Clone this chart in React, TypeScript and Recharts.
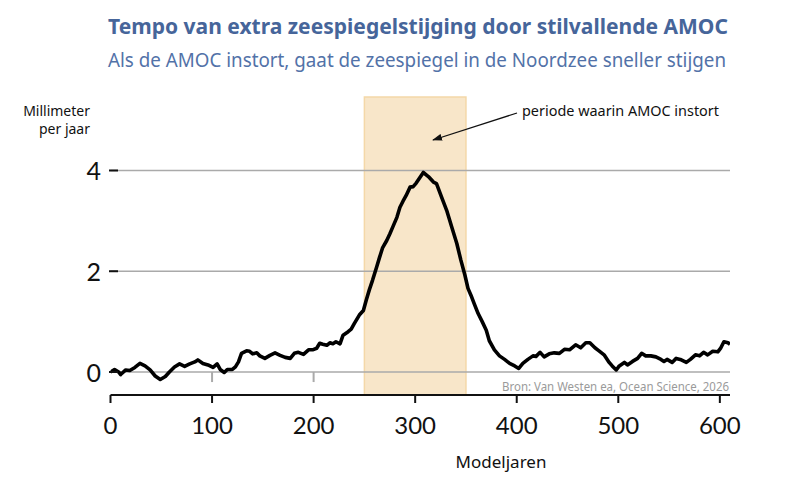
import React from "react";
import {
  LineChart,
  Line,
  XAxis,
  YAxis,
  ReferenceArea,
  ReferenceLine,
} from "recharts";

// Model years (x) and extra sea-level-rise rate in mm/year (y)
const years = [
  0, 4, 8, 10, 15, 19, 24, 29, 34, 39, 44, 49, 54, 58, 63, 68, 73, 78, 83, 86,
  91, 96, 101, 105, 108, 112, 115, 120, 123, 126, 129, 134, 137, 140, 144, 147,
  152, 157, 162, 167, 172, 177, 181, 185, 190, 195, 199, 203, 206, 209, 213,
  216, 219, 222, 226, 229, 234, 237, 240, 245, 249, 252, 255, 258, 262, 265,
  268, 272, 275, 278, 282, 285, 288, 291, 295, 298, 301, 304, 308, 313, 318,
  321, 326, 331, 336, 341, 345, 349, 352, 355, 358, 362, 366, 370, 373, 378,
  383, 388, 393, 398, 402, 406, 411, 416, 419, 423, 427, 432, 437, 442, 447,
  452, 458, 463, 468, 472, 477, 481, 486, 491, 494, 498, 501, 506, 509, 514,
  519, 523, 527, 532, 537, 542, 545, 548, 553, 557, 561, 567, 571, 576, 580,
  584, 588, 593, 598, 601, 604, 608, 610,
];
const rates = [
  0.0, 0.05, 0.0, -0.05, 0.04, 0.03, 0.09, 0.17, 0.12, 0.04, -0.08, -0.15,
  -0.09, 0.0, 0.1, 0.16, 0.11, 0.16, 0.2, 0.24, 0.17, 0.14, 0.09, 0.16, 0.05,
  -0.01, 0.05, 0.05, 0.1, 0.2, 0.37, 0.42, 0.41, 0.36, 0.38, 0.32, 0.27, 0.33,
  0.38, 0.33, 0.29, 0.27, 0.37, 0.39, 0.35, 0.44, 0.44, 0.47, 0.57, 0.55, 0.53,
  0.58, 0.56, 0.6, 0.56, 0.73, 0.8, 0.85, 0.96, 1.13, 1.22, 1.44, 1.64, 1.82,
  2.08, 2.28, 2.47, 2.61, 2.74, 2.88, 3.07, 3.27, 3.39, 3.5, 3.67, 3.68, 3.75,
  3.84, 3.96, 3.88, 3.77, 3.74, 3.47, 3.21, 2.88, 2.55, 2.22, 1.92, 1.66, 1.52,
  1.36, 1.16, 1.0, 0.83, 0.62, 0.44, 0.32, 0.25, 0.17, 0.12, 0.07, 0.17, 0.25,
  0.32, 0.31, 0.39, 0.3, 0.36, 0.38, 0.37, 0.45, 0.44, 0.54, 0.48, 0.58, 0.58,
  0.48, 0.42, 0.34, 0.19, 0.12, 0.04, 0.12, 0.19, 0.14, 0.21, 0.27, 0.37, 0.32,
  0.32, 0.3, 0.25, 0.21, 0.25, 0.19, 0.27, 0.25, 0.19, 0.25, 0.34, 0.32, 0.39,
  0.34, 0.41, 0.4, 0.48, 0.6, 0.58, 0.55,
];
const xTicks = [0, 100, 200, 300, 400, 500, 600];
const yTicks = [0, 2, 4];
const collapseStart = 250;
const collapseEnd = 350;
const minorTicks = [100, 200];

const title = "Tempo van extra zeespiegelstijging door stilvallende AMOC";
const subtitle =
  "Als de AMOC instort, gaat de zeespiegel in de Noordzee sneller stijgen";
const yLabel = ["Millimeter", "per jaar"];
const xLabel = "Modeljaren";
const annotation = "periode waarin AMOC instort";
const source = "Bron: Van Westen ea, Ocean Science, 2026";

const data = years.map((y, i) => ({ year: y, rate: rates[i] }));

const FONT = "'Noto Sans', 'Open Sans', sans-serif";
const NUMFONT = "Lato, 'Noto Sans', sans-serif";

const YTick = (props: any) => {
  const { y, payload } = props;
  return (
    <g>
      <text
        x={101}
        y={y}
        textAnchor="end"
        dominantBaseline="central"
        fontSize={25}
        fontFamily={NUMFONT}
        fill="#111"
      >
        {payload.value}
      </text>
      <line x1={109} x2={118} y1={y} y2={y} stroke="#111" strokeWidth={2} />
    </g>
  );
};

const XTick = (props: any) => {
  const { x, payload } = props;
  return (
    <text
      x={x}
      y={424}
      textAnchor="middle"
      dominantBaseline="central"
      fontSize={24}
      fontFamily={NUMFONT}
      fill="#111"
    >
      {payload.value}
    </text>
  );
};

export default function App() {
  return (
    <div
      style={{
        position: "absolute",
        left: 0,
        top: 0,
        width: 790,
        height: 481,
        background: "#fff",
      }}
    >
      <LineChart
        width={790}
        height={481}
        data={data}
        margin={{ top: 97, right: 60, bottom: 30, left: 0 }}
      >
        <ReferenceArea
          x1={collapseStart}
          x2={collapseEnd}
          fill="#f8e6c9"
          fillOpacity={1}
          stroke="#f4d8a8"
          strokeWidth={1.5}
          ifOverflow="visible"
        />
        {yTicks.map((t) => (
          <ReferenceLine
            key={"g" + t}
            y={t}
            stroke="#aaaaaa"
            strokeWidth={1.5}
          />
        ))}
        {minorTicks.map((t) => (
          <ReferenceLine
            key={t}
            segment={[
              { x: t, y: 0 },
              { x: t, y: -0.2 },
            ]}
            stroke="#aaaaaa"
            strokeWidth={2}
          />
        ))}
        <XAxis
          type="number"
          dataKey="year"
          domain={[0, 610]}
          ticks={xTicks}
          allowDataOverflow
          height={56}
          axisLine={{ stroke: "#111", strokeWidth: 2 }}
          tickLine={{ stroke: "#111", strokeWidth: 2 }}
          tickSize={8}
          tick={<XTick />}
          interval={0}
        />
        <YAxis
          type="number"
          domain={[-0.457, 5.459]}
          ticks={yTicks}
          allowDataOverflow
          width={110.5}
          axisLine={false}
          tickLine={false}
          tick={<YTick />}
          interval={0}
        />
        <Line
          type="linear"
          dataKey="rate"
          stroke="#000"
          strokeWidth={3.6}
          dot={false}
          strokeLinejoin="round"
          isAnimationActive={false}
        />
      </LineChart>
      <svg
        width={790}
        height={481}
        style={{ position: "absolute", left: 0, top: 0, pointerEvents: "none" }}
      >
        <defs>
          <marker
            id="arrowhead"
            markerWidth="10"
            markerHeight="8"
            refX="9"
            refY="4"
            orient="auto"
            markerUnits="userSpaceOnUse"
          >
            <path d="M0,0.5 L10,4 L0,7.5 Z" fill="#111" />
          </marker>
        </defs>
        <text
          x={108}
          y={34}
          fontSize={22}
          fontWeight={700}
          fontFamily={FONT}
          fill="#46659a"
          textLength={620}
          lengthAdjust="spacingAndGlyphs"
        >
          {title}
        </text>
        <text
          x={108}
          y={67}
          fontSize={19.5}
          fontFamily={FONT}
          fill="#5272a8"
          textLength={618}
          lengthAdjust="spacingAndGlyphs"
        >
          {subtitle}
        </text>
        <text x={90} y={116} fontSize={14} fontFamily={FONT} fill="#111" textAnchor="end">
          {yLabel[0]}
        </text>
        <text x={90} y={134} fontSize={14} fontFamily={FONT} fill="#111" textAnchor="end">
          {yLabel[1]}
        </text>
        <text
          x={522}
          y={116}
          fontSize={14.5}
          fontFamily={FONT}
          fill="#111"
          textLength={197}
          lengthAdjust="spacingAndGlyphs"
        >
          {annotation}
        </text>
        <line
          x1={517}
          y1={113}
          x2={433}
          y2={140}
          stroke="#111"
          strokeWidth={1.3}
          markerEnd="url(#arrowhead)"
        />
        <text
          x={729}
          y={391}
          fontSize={12.5}
          fontFamily={FONT}
          fill="#9a9a9a"
          textAnchor="end"
          textLength={227}
          lengthAdjust="spacingAndGlyphs"
        >
          {source}
        </text>
        <text
          x={501}
          y={468}
          fontSize={17}
          fontFamily={FONT}
          fill="#111"
          textAnchor="middle"
        >
          {xLabel}
        </text>
      </svg>
    </div>
  );
}
